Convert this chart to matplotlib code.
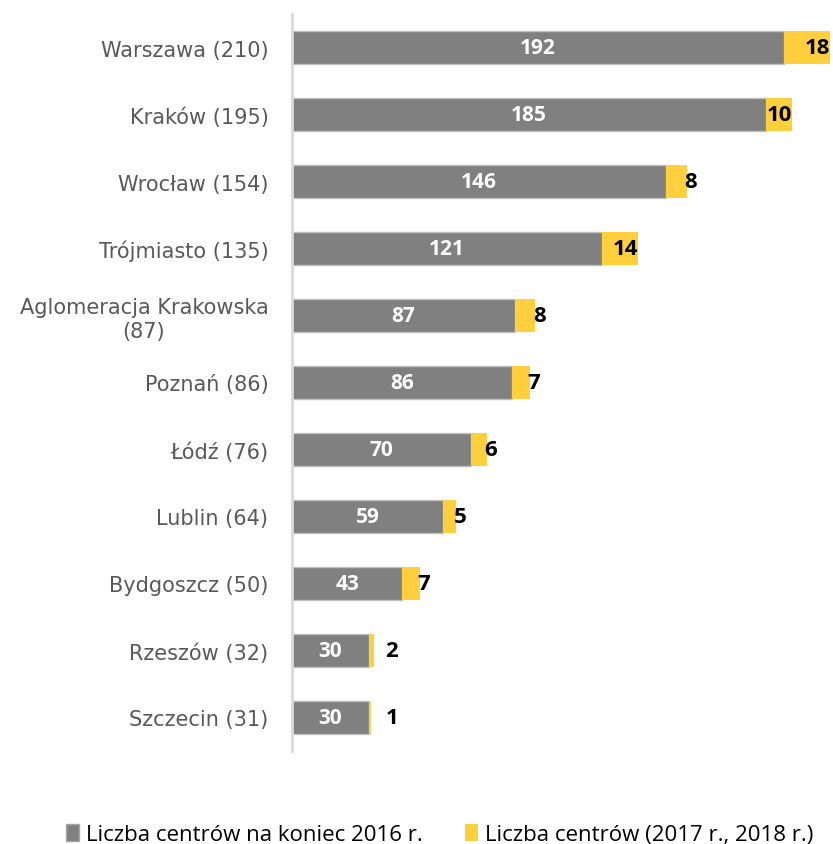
import matplotlib.pyplot as plt
from matplotlib.patches import Patch

cities = ['Warszawa (210)', 'Kraków (195)', 'Wrocław (154)', 'Trójmiasto (135)',
          'Aglomeracja Krakowska\n(87)', 'Poznań (86)', 'Łódź (76)', 'Lublin (64)',
          'Bydgoszcz (50)', 'Rzeszów (32)', 'Szczecin (31)']
centres_2016 = [192, 185, 146, 121, 87, 86, 70, 59, 43, 30, 30]
centres_new = [18, 10, 8, 14, 8, 7, 6, 5, 7, 2, 1]

grey = '#808080'
yellow = '#FFD03C'

fig = plt.figure(figsize=(8.33, 8.45), dpi=100)
ax = fig.add_axes([292 / 833, 93 / 845, 1 - 292 / 833, (752 - 15) / 845])

y = list(range(len(cities)))
ax.barh(y, centres_2016, height=0.5, color=grey, edgecolor='#bfbfbf', linewidth=1)
ax.barh(y, centres_new, left=centres_2016, height=0.5, color=yellow, linewidth=0)

for i, (a, b) in enumerate(zip(centres_2016, centres_new)):
    ax.text(a / 2, i, str(a), ha='center', va='center', color='white',
            fontsize=15, fontweight='bold', family='Open Sans')
    total = a + b
    if b >= 10:
        ax.text(total, i, str(b), ha='right', va='center', color='black',
                fontsize=16, fontweight='bold', family='Open Sans')
    else:
        ax.text(max(total - 1, 36.5), i, str(b), ha='left', va='center', color='black',
                fontsize=16, fontweight='bold', family='Open Sans')

ax.set_xlim(0, (833 - 292) / 2.5625)
ax.set_ylim(len(cities) - 0.5, -0.5)
ax.set_yticks(y)
ax.set_yticklabels(cities, fontsize=15, color='#595959', family='DejaVu Sans')
for lab in ax.get_yticklabels():
    lab.set_multialignment('center')
ax.tick_params(axis='y', length=0, pad=17)
ax.set_xticks([])
for s in ['top', 'right', 'bottom']:
    ax.spines[s].set_visible(False)
ax.spines['left'].set_color('#d9d9d9')
ax.spines['left'].set_linewidth(2)

handles = [Patch(facecolor=grey, edgecolor='#a6a6a6', label='Liczba centrów na koniec 2016 r.'),
           Patch(facecolor=yellow, label='Liczba centrów (2017 r., 2018 r.)')]
fig.legend(handles=handles, loc='lower left', bbox_to_anchor=(0.055, -0.025), ncol=2,
           frameon=False, prop={'family': 'Open Sans', 'size': 16},
           handlelength=0.6, handleheight=0.8, handletextpad=0.3, columnspacing=1.9)

fig.savefig('out.png', dpi=100)
